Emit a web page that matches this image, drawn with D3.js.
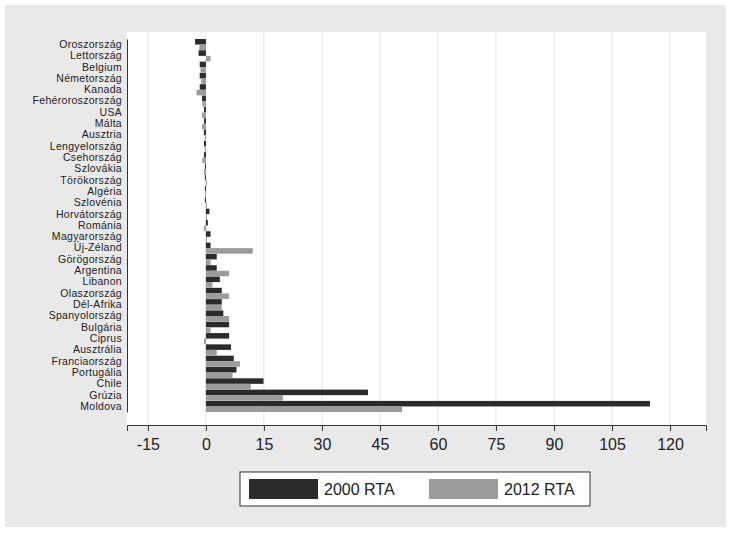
<!DOCTYPE html><html><head><meta charset="utf-8"><script src="https://cdn.jsdelivr.net/npm/d3@7"></script>
<style>body{margin:0;background:#fff}</style></head><body><svg id="c" width="731" height="535"></svg><script>
const categories=["Oroszország","Lettország","Belgium","Németország","Kanada","Fehéroroszország","USA","Málta","Ausztria","Lengyelország","Csehország","Szlovákia","Törökország","Algéria","Szlovénia","Horvátország","Románia","Magyarország","Új-Zéland","Görögország","Argentina","Libanon","Olaszország","Dél-Afrika","Spanyolország","Bulgária","Ciprus","Ausztrália","Franciaország","Portugália","Chile","Grúzia","Moldova"];
const rta2000=[-2.8,-1.9,-1.6,-1.6,-1.6,-1.0,-0.5,-0.5,-0.5,-0.5,-0.5,-0.2,-0.1,-0.1,-0.1,0.9,0.5,1.2,1.2,2.8,2.8,3.6,4.1,4.1,4.5,6.0,6.0,6.5,7.2,7.9,14.9,41.9,114.8];
const rta2012=[-1.7,1.2,-1.4,-1.2,-2.4,-0.9,-1.0,-1.0,-0.3,-0.3,-0.9,-0.5,0.1,-0.1,0.1,0.2,-0.5,0.2,12.1,1.2,6.0,1.7,6.0,4.1,6.0,1.2,-0.5,2.8,8.8,6.9,11.6,19.9,50.7];
const ticks=[-15,0,15,30,45,60,75,90,105,120];
const svg=d3.select("#c");
svg.append("rect").attr("x",5).attr("y",5).attr("width",721).attr("height",522).attr("fill","#e9e9e9");
const L=127,R=706,T=32,B=425;
svg.append("rect").attr("x",L).attr("y",T).attr("width",R-L).attr("height",B-T).attr("fill","#fff");
const x=d3.scaleLinear().domain([-20.4,129.3]).range([L,R]);
const y=d3.scaleBand().domain(categories).range([39,412]).paddingInner(0.02);
svg.append("g").selectAll("line").data(ticks).join("line").attr("x1",d=>x(d)).attr("x2",d=>x(d)).attr("y1",T).attr("y2",B).attr("stroke","#e0e6e6").attr("stroke-width",1);
const bh=y.bandwidth()/2;
const w=v=>Math.max(1,Math.abs(x(v)-x(0)));
const g=svg.append("g");
g.selectAll(".a").data(categories).join("rect").attr("x",(d,i)=>rta2000[i]<0?x(0)-w(rta2000[i]):x(0)).attr("width",(d,i)=>w(rta2000[i])).attr("y",d=>y(d)).attr("height",bh).attr("fill","#2b2b2b");
g.selectAll(".b").data(categories).join("rect").attr("x",(d,i)=>rta2012[i]<0?x(0)-w(rta2012[i]):x(0)).attr("width",(d,i)=>w(rta2012[i])).attr("y",d=>y(d)+bh).attr("height",bh).attr("fill","#9b9b9b");
const ya=svg.append("g").attr("transform",`translate(${L},0)`).call(d3.axisLeft(y).tickSize(0).tickPadding(5));
ya.select(".domain").attr("stroke","#333");
ya.selectAll("text").attr("font-family","Arial, Liberation Sans").attr("font-size",10.5).attr("letter-spacing",0.3).attr("fill","#222");
const xa=svg.append("g").attr("transform",`translate(0,${B})`).call(d3.axisBottom(x).tickValues(ticks).tickFormat(d=>String(d)).tickSize(6).tickPadding(8));
xa.select(".domain").attr("stroke","#333");
xa.selectAll("line").attr("stroke","#333");
xa.selectAll("text").attr("font-family","Arial, Liberation Sans").attr("font-size",16).attr("fill","#222");
const lg=svg.append("g");
lg.append("rect").attr("x",240).attr("y",472).attr("width",350).attr("height",34).attr("fill","#fff").attr("stroke","#333");
const items=[["2000 RTA","#2b2b2b",249],["2012 RTA","#9b9b9b",429]];
items.forEach(([t,c,px])=>{lg.append("rect").attr("x",px).attr("y",479).attr("width",69).attr("height",20).attr("fill",c);
lg.append("text").attr("x",px+75).attr("y",495).text(t).attr("font-family","Arial, Liberation Sans").attr("font-size",16).attr("fill","#222");});
</script></body></html>
